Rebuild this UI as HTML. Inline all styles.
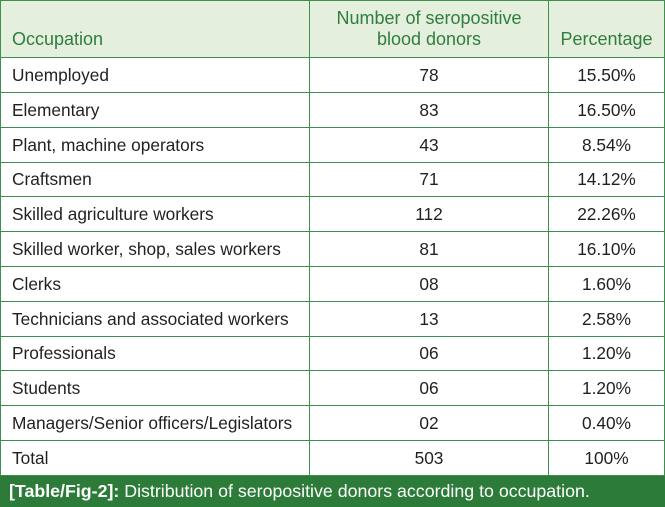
<!DOCTYPE html>
<html><head><style>
body{margin:0;width:665px;height:507px;overflow:hidden;background:#fff;font-family:"Liberation Sans",sans-serif;}
.r{position:absolute;left:0;width:665px;border-bottom:1px solid #3f8f4c;box-sizing:border-box;font-size:17.3px;color:#231f20;}
.c{position:absolute;top:0;bottom:0;display:flex;align-items:center;box-sizing:border-box;white-space:nowrap;}
.c1{left:0;width:309px;padding-left:11px;border-left:1px solid #3f8f4c;}
.c2{left:309px;width:239px;justify-content:center;border-left:1px solid #3f8f4c;}
.c3{left:548px;width:117px;justify-content:center;border-left:1px solid #3f8f4c;border-right:1px solid #3f8f4c;}
.h{background:#e5efdd;color:#2f7e3d;font-size:18px;}
.h .c{align-items:flex-end;padding-bottom:7px;text-align:center;line-height:21px;}
.cap{position:absolute;left:0;top:476px;width:665px;height:31px;background:#2c7b38;color:#fff;font-size:17.8px;padding-left:9px;box-sizing:border-box;line-height:31px;white-space:nowrap;}
</style></head><body>
<div class="r h" style="top:0;height:58px;border-top:1px solid #3f8f4c;"><div class="c c1">Occupation</div><div class="c c2">Number of seropositive<br>blood donors</div><div class="c c3">Percentage</div></div>
<div class="r" style="top:58px;height:35px"><div class="c c1">Unemployed</div><div class="c c2">78</div><div class="c c3">15.50%</div></div>
<div class="r" style="top:93px;height:35px"><div class="c c1">Elementary</div><div class="c c2">83</div><div class="c c3">16.50%</div></div>
<div class="r" style="top:128px;height:35px"><div class="c c1">Plant, machine operators</div><div class="c c2">43</div><div class="c c3">8.54%</div></div>
<div class="r" style="top:163px;height:34px"><div class="c c1">Craftsmen</div><div class="c c2">71</div><div class="c c3">14.12%</div></div>
<div class="r" style="top:197px;height:35px"><div class="c c1">Skilled agriculture workers</div><div class="c c2">112</div><div class="c c3">22.26%</div></div>
<div class="r" style="top:232px;height:35px"><div class="c c1">Skilled worker, shop, sales workers</div><div class="c c2">81</div><div class="c c3">16.10%</div></div>
<div class="r" style="top:267px;height:35px"><div class="c c1">Clerks</div><div class="c c2">08</div><div class="c c3">1.60%</div></div>
<div class="r" style="top:302px;height:35px"><div class="c c1">Technicians and associated workers</div><div class="c c2">13</div><div class="c c3">2.58%</div></div>
<div class="r" style="top:337px;height:34px"><div class="c c1">Professionals</div><div class="c c2">06</div><div class="c c3">1.20%</div></div>
<div class="r" style="top:371px;height:35px"><div class="c c1">Students</div><div class="c c2">06</div><div class="c c3">1.20%</div></div>
<div class="r" style="top:406px;height:35px"><div class="c c1">Managers/Senior officers/Legislators</div><div class="c c2">02</div><div class="c c3">0.40%</div></div>
<div class="r" style="top:441px;height:35px"><div class="c c1">Total</div><div class="c c2">503</div><div class="c c3">100%</div></div>
<div class="cap"><b>[Table/Fig-2]:</b> Distribution of seropositive donors according to occupation.</div>
</body></html>
